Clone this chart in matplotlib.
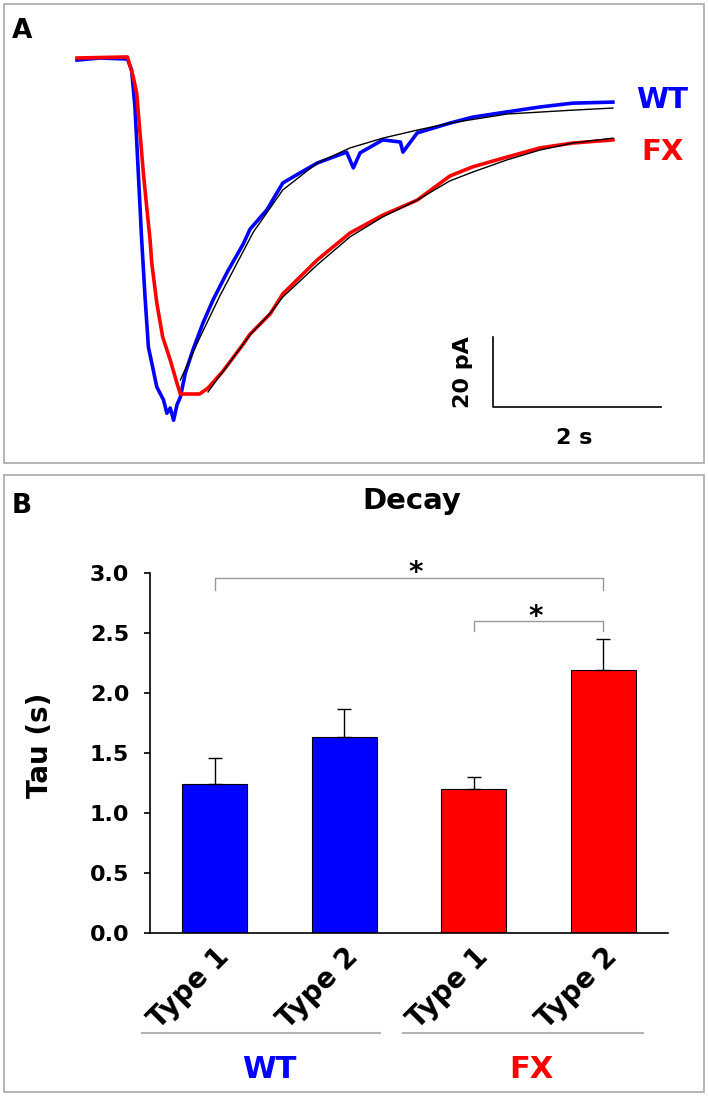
import matplotlib
matplotlib.use("Agg")
import matplotlib.pyplot as plt
from matplotlib.patches import Rectangle
from matplotlib.lines import Line2D

plt.rcParams['font.family'] = ['DejaVu Sans']
plt.rcParams['font.weight'] = 'bold'

W, H = 709, 1096  # output size in px (dpi 100)

# --- panel A: example currents, time in s, current in pA ---
wt_t = [0.00, 0.27, 0.60, 0.65, 0.69, 0.73, 0.77, 0.81, 0.85, 0.89, 0.95, 1.03, 1.07,
        1.11, 1.15, 1.19, 1.23, 1.29, 1.38, 1.50, 1.62, 1.79, 1.98, 2.06, 2.26, 2.45,
        2.65, 2.86, 3.05, 3.21, 3.29, 3.37, 3.64, 3.85, 3.88, 4.05, 4.44, 4.71, 5.12,
        5.51, 5.90, 6.38]
wt_i = [-0.6, 0.0, -0.3, -3.4, -14.0, -32.9, -52.0, -68.3, -82.6, -87.1, -94.0, -97.7, -101.5,
        -100.0, -103.5, -99.1, -96.9, -90.0, -83.4, -75.7, -69.1, -61.1, -53.1, -48.9, -43.4, -35.7,
        -32.9, -30.0, -28.3, -26.9, -31.4, -27.1, -23.4, -24.0, -26.9, -21.4, -18.6, -16.9, -15.4,
        -14.0, -12.9, -12.6]

fx_t = [0.00, 0.60, 0.67, 0.71, 0.75, 0.79, 0.83, 0.87, 0.89, 0.95, 1.02, 1.11, 1.19, 1.23,
        1.35, 1.46, 1.56, 1.74, 1.98, 2.06, 2.30, 2.45, 2.86, 3.25, 3.64, 4.05, 4.44, 4.71,
        5.12, 5.51, 5.90, 6.38]
fx_i = [0.0, 0.3, -5.4, -10.0, -21.4, -32.9, -42.6, -52.0, -58.6, -70.0, -79.7, -86.3, -92.9, -96.0,
        -96.0, -96.0, -94.3, -89.4, -81.7, -78.9, -73.1, -67.4, -57.7, -50.0, -44.9, -40.6, -33.7, -31.1,
        -28.3, -25.7, -24.3, -23.4]

# exponential fits (black)
wt_fit_t = [1.23, 1.46, 1.70, 2.10, 2.45, 2.86, 3.25, 3.64, 4.05, 4.44, 5.12, 5.90, 6.38]
wt_fit_i = [-92.0, -80.0, -68.0, -49.7, -37.7, -30.0, -25.7, -22.9, -20.6, -18.6, -16.0, -14.9, -14.3]
fx_fit_t = [1.56, 1.82, 2.06, 2.30, 2.45, 2.86, 3.25, 3.64, 4.05, 4.44, 4.71, 5.12, 5.51, 5.90, 6.38]
fx_fit_i = [-95.4, -86.9, -79.1, -72.9, -68.3, -59.1, -51.1, -45.4, -40.6, -35.1, -32.6, -29.1,
            -26.3, -24.3, -22.9]

# --- panel B: decay tau ---
groups = ['WT', 'FX']
cell_types = ['Type 1', 'Type 2', 'Type 1', 'Type 2']
tau = [1.24, 1.63, 1.20, 2.19]
tau_sem = [0.22, 0.24, 0.10, 0.26]
bar_colors = ['#0000ff', '#0000ff', '#ff0000', '#ff0000']
group_colors = ['#0000ff', '#ff0000']
sig_pairs = [(0, 3), (2, 3)]


def fx(px):
    return px / W


def fy(py):
    return 1 - py / H


fig = plt.figure(figsize=(W / 100, H / 100), dpi=100)

# panel frames
for x0, y0, x1, y1 in [(4, 4, 704, 463), (4, 475, 704, 1092)]:
    fig.add_artist(Rectangle((fx(x0), fy(y1)), fx(x1) - fx(x0), fy(y0) - fy(y1),
                             fill=False, ec='#a8a8a8', lw=1.2, transform=fig.transFigure))

# ---------------- panel A ----------------
px_s, px_pA, t0_px, i0_px = 84, 3.5, 77, 58
axA = fig.add_axes([0, fy(460), 1, 460 / H])
axA.set_xlim(-t0_px / px_s, (W - t0_px) / px_s)
axA.set_ylim(-(460 - i0_px) / px_pA, i0_px / px_pA)
axA.axis('off')

axA.plot(wt_t, wt_i, color='#0000ff', lw=2.6, solid_joinstyle='round')
axA.plot(fx_t, fx_i, color='#ff0000', lw=2.6, solid_joinstyle='round')
axA.plot(wt_fit_t, wt_fit_i, color='black', lw=1.0)
axA.plot(fx_fit_t, fx_fit_i, color='black', lw=1.0)

# scale bar: 2 s x 20 pA
sb_t, sb_i = (493 - t0_px) / px_s, -(407 - i0_px) / px_pA
axA.plot([sb_t, sb_t, sb_t + 2], [sb_i + 20, sb_i, sb_i], color='black', lw=1.2)
axA.text(sb_t - 0.36, sb_i + 10, '20 pA', rotation=90, ha='center', va='center', fontsize=16)
axA.text(sb_t + 0.97, sb_i - 8.9, '2 s', ha='center', va='center', fontsize=16)

fig.text(fx(636), fy(108), 'WT', color='#0000ff', fontsize=21, ha='left', va='baseline')
fig.text(fx(641), fy(160), 'FX', color='#ff0000', fontsize=21, ha='left', va='baseline')
fig.text(fx(12), fy(38), 'A', fontsize=19, ha='left', va='baseline')

# ---------------- panel B ----------------
axB = fig.add_axes([fx(150), fy(933), (668 - 150) / W, (933 - 573) / H])
x = list(range(len(tau)))
axB.bar(x, tau, width=0.5, color=bar_colors, edgecolor='black', linewidth=0.8, zorder=2)
axB.errorbar(x, tau, yerr=[[0] * len(tau), tau_sem], fmt='none', ecolor='black',
             elinewidth=1, capsize=5, capthick=1, zorder=3)
axB.set_xlim(-0.5, 3.5)
axB.set_ylim(0, 3.0)
for s in ['top', 'right']:
    axB.spines[s].set_visible(False)
for s in ['left', 'bottom']:
    axB.spines[s].set_linewidth(1.2)

yt = [0, 0.5, 1.0, 1.5, 2.0, 2.5, 3.0]
axB.set_yticks(yt)
axB.set_yticklabels([f'{v:.1f}' for v in yt], fontsize=16, fontweight='bold')
axB.tick_params(axis='y', direction='out', length=4, width=1.2, pad=11)
axB.set_xticks(x)
axB.set_xticklabels(cell_types, rotation=45, ha='right', rotation_mode='anchor',
                    fontsize=20, fontweight='bold')
axB.tick_params(axis='x', length=0, pad=7)

axB.set_ylabel('Tau (s)', fontsize=20, fontweight='bold')
axB.yaxis.set_label_coords(-0.185, 0.52)

# significance brackets
for (a, b), top, leg, star_x, star_y in zip(sig_pairs, [2.96, 2.60], [2.86, 2.52],
                                             [1.55, 2.48], [3.0, 2.63]):
    axB.plot([a, a, b, b], [leg, top, top, leg], color='#999999', lw=1, clip_on=False)
    axB.text(star_x, star_y, '*', ha='center', va='center', fontsize=20)

fig.text(fx(412), fy(509), 'Decay', fontsize=21, ha='center', va='baseline')
fig.text(fx(12), fy(513), 'B', fontsize=19, ha='left', va='baseline')

# group underlines and labels
for (x0, x1), name, col in zip([(142, 380), (403, 643)], groups, group_colors):
    fig.add_artist(Line2D([fx(x0), fx(x1)], [fy(1033), fy(1033)], color='#b4b4b4', lw=1.5))
    fig.text(fx((x0 + x1) / 2 + 8), fy(1078), name, color=col, fontsize=22,
             ha='center', va='baseline')

fig.savefig('out.png', dpi=100)
